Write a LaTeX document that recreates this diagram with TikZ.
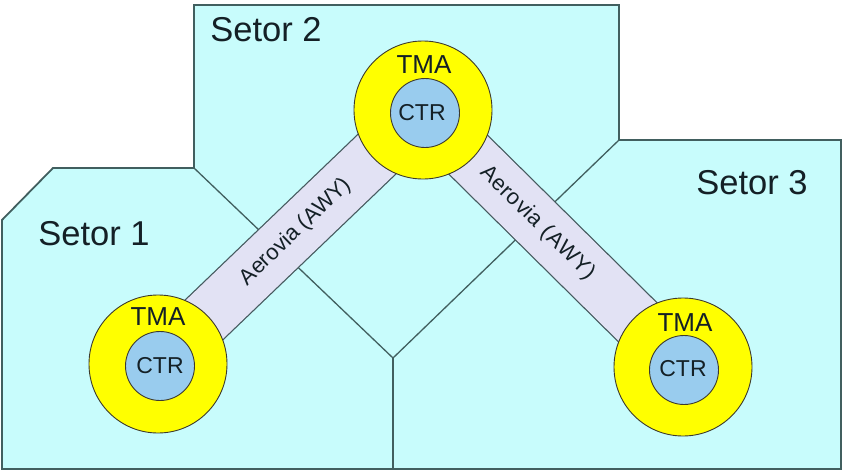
\documentclass[tikz,border=0pt]{standalone}
\usepackage{fontspec}
\setmainfont{Liberation Sans}
\definecolor{sectorfill}{RGB}{200,252,252}
\definecolor{sectorline}{RGB}{65,95,95}
\definecolor{tmafill}{RGB}{255,255,0}
\definecolor{ctrfill}{RGB}{153,204,238}
\definecolor{bandfill}{RGB}{226,226,244}
\definecolor{bandline}{RGB}{70,90,95}
\definecolor{txt}{RGB}{20,32,38}
\begin{document}
\begin{tikzpicture}[x=1pt,y=-1pt,
  tma/.style={circle,draw=black!75!olive,line width=0.9pt,fill=tmafill,minimum size=138pt,inner sep=0pt},
  ctr/.style={circle,draw=black!75!olive,line width=0.9pt,fill=ctrfill,minimum size=69pt,inner sep=0pt},
  lbl/.style={text=txt,font=\fontsize{#1}{#1}\selectfont,inner sep=0pt},
  sectorlbl/.style={lbl=34.5},
  bandouter/.style={line width=56pt,draw=bandline,line cap=butt},
  bandinner/.style={line width=53.5pt,draw=bandfill,line cap=butt},
  border/.style={draw=sectorline,line width=1.8pt,line join=miter},
  inner/.style={draw=sectorline,line width=1.3pt}
]
\useasboundingbox (0,0) rectangle (843,471);
% sectors
\fill[white] (0,0) rectangle (843,471);
\path[fill=sectorfill,border] (194,5) -- (619,5) -- (619,140) -- (841,140) -- (841,469) -- (2,469) -- (2,220) -- (53,168) -- (194,168) -- cycle;
\coordinate (j1) at (194,168);
\coordinate (j2) at (619,140);
\coordinate (jm) at (393,358);
\coordinate (jb) at (393,469);
\draw[inner] (j1) -- (jm) -- (j2);
\draw[inner] (jm) -- (jb);
% centres
\coordinate (c1) at (158,364);
\coordinate (c2) at (423,110);
\coordinate (c3) at (683,367);
% airways
\draw[bandouter] (c1) -- (c2);
\draw[bandinner] (c1) -- (c2) node[pos=0.52,sloped,lbl=22] (awy1) {Aerovia (AWY)};
\draw[bandouter] (c2) -- (c3);
\draw[bandinner] (c2) -- (c3) node[pos=0.44,sloped,lbl=22] (awy2) {A\kern0.3pt e\kern0.3pt r\kern0.3pt o\kern1.5pt v\kern0.3pt i\kern0.3pt a\kern1pt\ (\kern1pt A\kern0.3pt W\kern0.3pt Y\kern1pt )};
% TMA / CTR
\node[tma] (tma1) at (c1) {};
\node[ctr] (ctr1) at (160,366) {};
\node[tma] (tma2) at (c2) {};
\node[ctr] (ctr2) at (425,113) {};
\node[tma] (tma3) at (c3) {};
\node[ctr] (ctr3) at (684,370) {};
\node[lbl=26] (t1) at (158,317) {TMA};
\node[lbl=23] (r1) at (160,366) {CTR};
\node[lbl=26] (t2) at (424,65) {TMA};
\node[lbl=23] (r2) at (422,113) {CTR};
\node[lbl=26] (t3) at (685,323) {TMA};
\node[lbl=23] (r3) at (683,369) {CTR};
% sector labels
\node[sectorlbl] (s1) at (94,234) {Setor 1};
\node[sectorlbl] (s2) at (266,30) {Setor 2};
\node[sectorlbl] (s3) at (752,183) {Setor 3};
\end{tikzpicture}
\end{document}
